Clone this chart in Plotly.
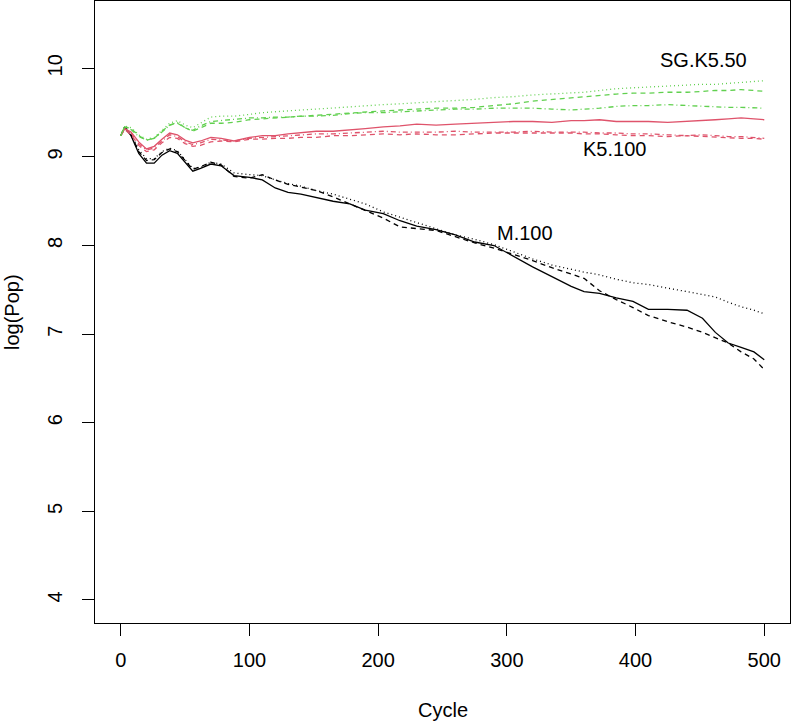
import plotly.graph_objects as go

# cycle at which each population value was read
cycle = [0, 3, 8, 14, 20, 26, 32, 38, 44, 50, 56, 62, 70, 78, 88, 100, 110, 120,
         130, 140, 152, 165, 178, 190, 204, 217, 230, 245, 260, 275, 290, 305,
         320, 335, 350, 360, 372, 385, 398, 410, 425, 440, 452, 462, 472, 482,
         492, 500]

# M.100 runs (black)
m_solid = [9.24, 9.33, 9.24, 9.04, 8.93, 8.93, 9.02, 9.07, 9.04, 8.94, 8.84, 8.87,
           8.92, 8.90, 8.79, 8.77, 8.74, 8.65, 8.60, 8.58, 8.54, 8.50, 8.47, 8.40,
           8.36, 8.28, 8.22, 8.18, 8.12, 8.04, 8.00, 7.88, 7.76, 7.65, 7.54, 7.48,
           7.46, 7.41, 7.37, 7.28, 7.28, 7.27, 7.18, 7.02, 6.90, 6.85, 6.80, 6.71]
m_dash = [9.24, 9.33, 9.25, 9.06, 8.96, 8.97, 9.05, 9.09, 9.06, 8.96, 8.86, 8.89,
          8.94, 8.91, 8.78, 8.76, 8.80, 8.74, 8.69, 8.66, 8.62, 8.55, 8.47, 8.40,
          8.31, 8.21, 8.19, 8.17, 8.10, 8.03, 7.97, 7.90, 7.83, 7.75, 7.68, 7.63,
          7.49, 7.39, 7.30, 7.21, 7.14, 7.08, 7.02, 6.96, 6.90, 6.80, 6.72, 6.60]
m_dot = [9.24, 9.34, 9.26, 9.08, 8.98, 8.98, 9.06, 9.10, 9.07, 8.97, 8.87, 8.88,
         8.94, 8.92, 8.82, 8.80, 8.79, 8.74, 8.70, 8.67, 8.62, 8.58, 8.52, 8.47,
         8.38, 8.32, 8.26, 8.19, 8.12, 8.07, 8.01, 7.93, 7.85, 7.78, 7.73, 7.70,
         7.67, 7.62, 7.58, 7.56, 7.52, 7.48, 7.44, 7.42, 7.36, 7.31, 7.27, 7.23]

# K5.100 runs (red)
k_solid = [9.24, 9.32, 9.28, 9.17, 9.09, 9.12, 9.20, 9.27, 9.25, 9.19, 9.16, 9.18,
           9.22, 9.21, 9.18, 9.22, 9.24, 9.24, 9.26, 9.27, 9.29, 9.29, 9.31, 9.32,
           9.34, 9.35, 9.37, 9.36, 9.37, 9.38, 9.39, 9.40, 9.40, 9.39, 9.41, 9.41,
           9.42, 9.40, 9.40, 9.40, 9.39, 9.40, 9.41, 9.42, 9.43, 9.44, 9.43, 9.42]
k_dash = [9.24, 9.31, 9.25, 9.13, 9.06, 9.08, 9.16, 9.22, 9.21, 9.15, 9.12, 9.13,
          9.17, 9.18, 9.17, 9.20, 9.20, 9.21, 9.21, 9.22, 9.22, 9.24, 9.24, 9.25,
          9.26, 9.25, 9.26, 9.25, 9.25, 9.26, 9.27, 9.27, 9.27, 9.27, 9.27, 9.26,
          9.26, 9.25, 9.24, 9.24, 9.23, 9.24, 9.23, 9.22, 9.22, 9.21, 9.21, 9.20]
k_dotdash = [9.24, 9.32, 9.27, 9.15, 9.08, 9.10, 9.18, 9.25, 9.23, 9.17, 9.14, 9.16,
             9.20, 9.19, 9.18, 9.21, 9.22, 9.23, 9.24, 9.25, 9.26, 9.26, 9.27, 9.28,
             9.29, 9.28, 9.28, 9.28, 9.29, 9.28, 9.28, 9.28, 9.29, 9.28, 9.28, 9.28,
             9.27, 9.27, 9.26, 9.26, 9.25, 9.24, 9.25, 9.24, 9.23, 9.23, 9.22, 9.21]

# SG.K5.50 runs (green)
sg_dot = [9.24, 9.35, 9.33, 9.25, 9.20, 9.22, 9.30, 9.38, 9.41, 9.36, 9.33, 9.38,
          9.45, 9.46, 9.46, 9.48, 9.50, 9.51, 9.52, 9.53, 9.54, 9.55, 9.57, 9.58,
          9.59, 9.60, 9.61, 9.62, 9.63, 9.65, 9.67, 9.68, 9.70, 9.71, 9.72, 9.73,
          9.75, 9.77, 9.78, 9.79, 9.80, 9.81, 9.82, 9.82, 9.83, 9.84, 9.85, 9.86]
sg_dash = [9.24, 9.34, 9.32, 9.24, 9.19, 9.21, 9.29, 9.36, 9.38, 9.33, 9.29, 9.33,
           9.38, 9.38, 9.39, 9.42, 9.43, 9.44, 9.45, 9.46, 9.47, 9.48, 9.50, 9.51,
           9.52, 9.53, 9.54, 9.55, 9.55, 9.56, 9.58, 9.60, 9.63, 9.65, 9.67, 9.68,
           9.70, 9.71, 9.72, 9.72, 9.73, 9.73, 9.74, 9.75, 9.75, 9.76, 9.75, 9.74]
sg_dotdash = [9.24, 9.34, 9.31, 9.23, 9.19, 9.21, 9.28, 9.36, 9.39, 9.33, 9.30, 9.35,
              9.40, 9.41, 9.42, 9.44, 9.44, 9.45, 9.45, 9.46, 9.46, 9.47, 9.49, 9.50,
              9.50, 9.51, 9.52, 9.53, 9.54, 9.54, 9.55, 9.55, 9.55, 9.54, 9.53, 9.54,
              9.55, 9.57, 9.58, 9.58, 9.59, 9.58, 9.57, 9.57, 9.56, 9.56, 9.55, 9.55]

label_text = ["SG.K5.50", "K5.100", "M.100"]
label_cycle = [453, 384, 314]
label_pop = [10.09, 9.085, 8.14]

DASH = "5px,4px"
DOT = "1px,3px"
DOTDASH = "1px,3px,5px,3px"
RED = "#DF536B"
GREEN = "#61D04F"

runs = [
    (m_solid, "black", "solid"),
    (m_dash, "black", DASH),
    (m_dot, "black", DOT),
    (k_solid, RED, "solid"),
    (k_dash, RED, DASH),
    (k_dotdash, RED, DOTDASH),
    (sg_dot, GREEN, DOT),
    (sg_dash, GREEN, DASH),
    (sg_dotdash, GREEN, DOTDASH),
]

fig = go.Figure()
for vals, col, dash in runs:
    fig.add_trace(go.Scatter(x=cycle, y=vals, mode="lines",
                             line=dict(color=col, width=1.3, dash=dash),
                             showlegend=False))

for t, cx, cy in zip(label_text, label_cycle, label_pop):
    fig.add_annotation(x=cx, y=cy, text=t, showarrow=False,
                       font=dict(size=20, color="black"))

fig.add_annotation(xref="paper", yref="paper", x=0.5, y=0, yshift=-87,
                   xanchor="center", yanchor="middle",
                   text="Cycle", showarrow=False, font=dict(size=20))
fig.add_annotation(xref="paper", yref="paper", x=0, y=0.5, xshift=-83,
                   xanchor="center", yanchor="middle",
                   text="log(Pop)", textangle=-90, showarrow=False,
                   font=dict(size=20))

axis_style = dict(showgrid=False, zeroline=False, showline=True, mirror=True,
                  linecolor="black", linewidth=1, ticks="outside", ticklen=12,
                  tickcolor="black", tickwidth=1, automargin=False)

fig.update_xaxes(range=[-20, 520], tickvals=[0, 100, 200, 300, 400, 500],
                 ticklabelstandoff=7, **axis_style)
fig.update_yaxes(range=[3.74, 10.76], tickvals=[4, 5, 6, 7, 8, 9, 10],
                 tickangle=-90, ticklabelstandoff=12, **axis_style)

fig.update_layout(
    width=792, height=723,
    margin=dict(l=95, r=2, t=1, b=100, autoexpand=False),
    plot_bgcolor="white", paper_bgcolor="white",
    font=dict(family="Liberation Sans", size=20, color="black"),
)

fig.write_html("out.html", config={"displayModeBar": False},
               post_script="document.body.style.margin='0';")
